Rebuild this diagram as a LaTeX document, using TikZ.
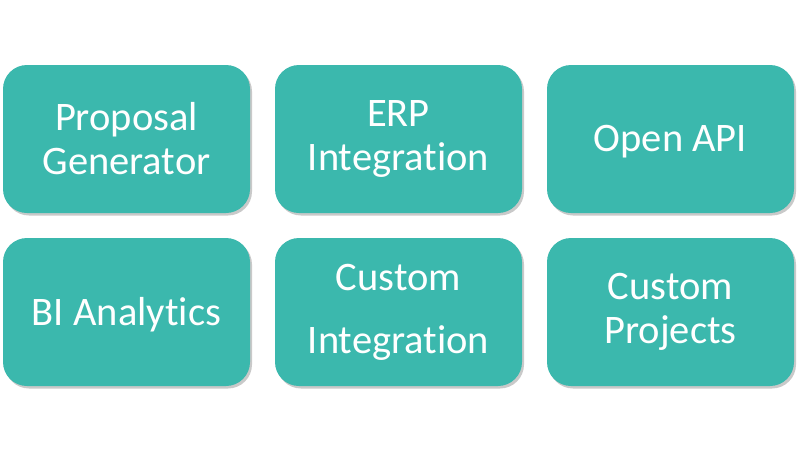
\documentclass[tikz,border=0pt]{standalone}
\usepackage{fontspec}
\setmainfont{Carlito}[Ligatures=NoCommon]
\usetikzlibrary{shadows}
\definecolor{tealbox}{RGB}{59,184,173}
\tikzset{
  tile/.style={fill=tealbox, draw=none, rounded corners=24pt,
    minimum width=247pt, minimum height=148pt, inner sep=0pt,
    text=white, align=center, font=\fontsize{40.5}{44}\selectfont,
    drop shadow={shadow xshift=2pt, shadow yshift=-2.5pt, opacity=0.35, fill=black!60}},
  oneline/.style={text depth=2pt}
}
\begin{document}
\begin{tikzpicture}[x=1pt,y=-1pt]
\useasboundingbox[fill=white] (0,0) rectangle (800,451);
\node[tile] (pg) at (126.5,139) {Proposal\\Generator};
\node[tile] (erp) at (398.5,139) {ERP\\Integration};
\node[tile,oneline] (api) at (670.5,139) {Open API};
\node[tile,oneline] (bi) at (126.5,312) {BI Analytics};
\node[tile] (ci) at (398.5,312) {Custom\\[19pt]Integration};
\node[tile] (cp) at (670.5,312) {Custom\\Projects};
\end{tikzpicture}
\end{document}
